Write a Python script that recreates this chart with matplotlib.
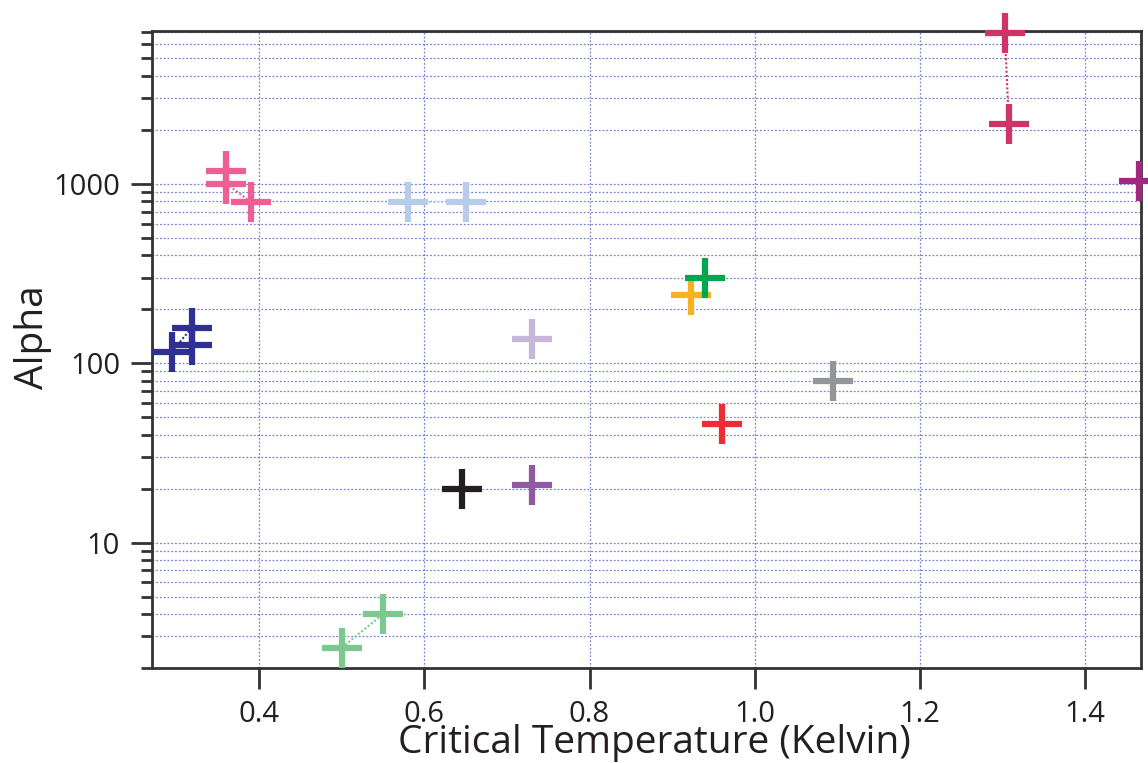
import matplotlib
matplotlib.use("Agg")
import matplotlib.pyplot as plt
from matplotlib import ticker
import numpy as np

plt.rcParams['font.family'] = ['Open Sans', 'DejaVu Sans']

# critical temperature (K) and alpha, one group per material
blue_tc = [0.294, 0.318, 0.318]
blue_alpha = [116, 157, 126]
pink_tc = [0.36, 0.36, 0.39]
pink_alpha = [1180, 1000, 790]
ltblue_tc = [0.58, 0.65]
ltblue_alpha = [790, 790]
ltgreen_tc = [0.50, 0.55]
ltgreen_alpha = [2.6, 4.0]
black_tc = [0.645]
black_alpha = [20]
lavender_tc = [0.73]
lavender_alpha = [137]
purple_tc = [0.73]
purple_alpha = [21]
orange_tc = [0.923]
orange_alpha = [240]
green_tc = [0.94]
green_alpha = [300]
red_tc = [0.96]
red_alpha = [46]
grey_tc = [1.095]
grey_alpha = [80]
magenta_tc = [1.303, 1.308]
magenta_alpha = [6900, 2150]
plum_tc = [1.466]
plum_alpha = [1040]

groups = [
    (blue_tc, blue_alpha, '#2E3192'),
    (pink_tc, pink_alpha, '#EE6093'),
    (ltblue_tc, ltblue_alpha, '#B7CBEA'),
    (ltgreen_tc, ltgreen_alpha, '#7CC891'),
    (black_tc, black_alpha, '#231F20'),
    (lavender_tc, lavender_alpha, '#C5B6DA'),
    (purple_tc, purple_alpha, '#9159A4'),
    (orange_tc, orange_alpha, '#F7B224'),
    (green_tc, green_alpha, '#00A650'),
    (red_tc, red_alpha, '#EE2C33'),
    (grey_tc, grey_alpha, '#939598'),
    (magenta_tc, magenta_alpha, '#CE3468'),
    (plum_tc, plum_alpha, '#A1277F'),
]

fig = plt.figure(figsize=(11.48, 7.63), dpi=100)
ax = fig.add_axes([0.1324, 0.1245, 0.8615, 0.8349])

for tc, alpha, col in groups:
    if len(tc) > 1:
        ax.plot(tc, alpha, linestyle=(0, (1, 1)), color=col, linewidth=1.5,
                zorder=3)
    ax.plot(tc, alpha, linestyle='none', marker='+', markersize=29,
            markeredgewidth=4.5, color=col, clip_on=False, zorder=4)

ax.set_yscale('log')
ax.set_xlim(0.27, 1.468)
ax.set_ylim(2.0, 7100)
ax.xaxis.set_major_locator(ticker.MultipleLocator(0.2))
ax.xaxis.set_major_formatter(ticker.FormatStrFormatter('%.1f'))
ax.yaxis.set_major_locator(ticker.LogLocator(base=10, numticks=10))
ax.yaxis.set_minor_locator(ticker.LogLocator(base=10, subs=np.arange(2, 10), numticks=20))
ax.yaxis.set_major_formatter(ticker.FuncFormatter(lambda v, p: '%d' % round(v)))
ax.yaxis.set_minor_formatter(ticker.NullFormatter())

grid_kw = dict(color='#5566c4', linestyle=(0, (1.5, 1.5)), linewidth=0.9, alpha=0.8)
ax.grid(True, which='major', axis='both', **grid_kw)
ax.grid(True, which='minor', axis='y', **grid_kw)
ax.set_axisbelow(True)

for s in ax.spines.values():
    s.set_color('#333333')
    s.set_linewidth(2)

ax.tick_params(axis='both', which='major', direction='out', length=15, width=2,
               color='#333333', labelsize=21, labelcolor='#231F20', pad=8)
ax.tick_params(axis='y', which='minor', direction='out', length=8, width=2,
               color='#333333')

ax.set_xlabel('Critical Temperature (Kelvin)', fontsize=28, color='#231F20')
ax.set_ylabel('Alpha', fontsize=28, color='#231F20')
ax.xaxis.label.set_va('baseline')
ax.yaxis.label.set_va('baseline')
ax.xaxis.set_label_coords(0.508, -0.134)
ax.yaxis.set_label_coords(-0.110, 0.52)

fig.savefig('out.png', dpi=100)
